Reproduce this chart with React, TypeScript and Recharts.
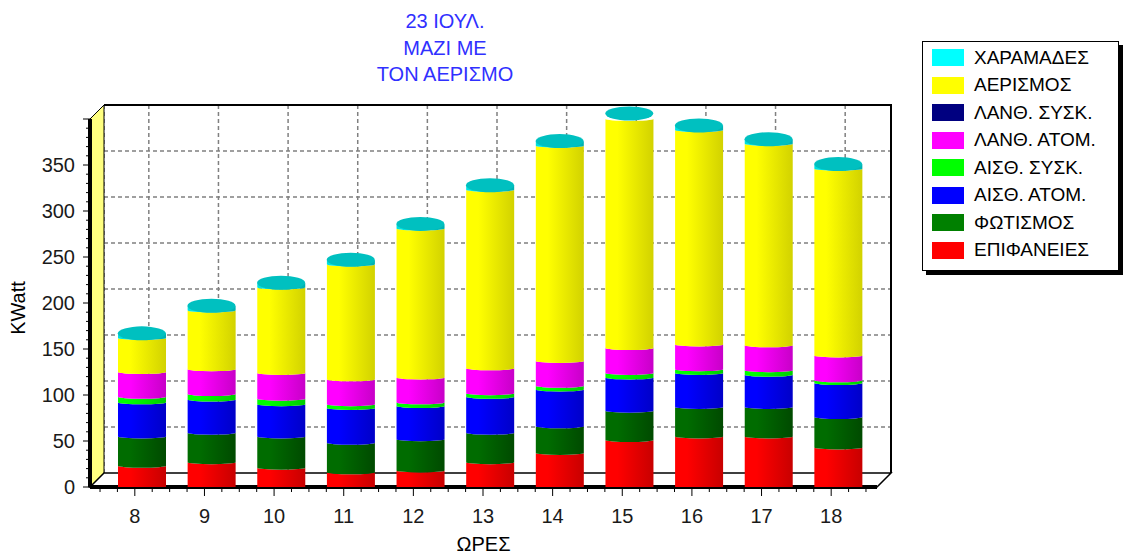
import React from 'react';
import {
  BarChart, Bar, XAxis, YAxis, CartesianGrid, ReferenceArea, ReferenceDot, Label,
} from 'recharts';

// hours of the day (x categories)
const HOURS = ['8', '9', '10', '11', '12', '13', '14', '15', '16', '17', '18'];

// KWatt per load component, bottom of the stack first
const EPIFANEIES = [23, 27, 21, 16, 18, 27, 37, 51, 55, 55, 43];
const FOTISMOS = [32, 32, 34, 32, 34, 32, 29, 32, 32, 32, 33];
const AISTH_ATOM = [37, 36, 35, 38, 36, 39, 40, 36, 37, 35, 37];
const AISTH_SYSK = [6, 6, 6, 4, 4, 4, 4, 5, 4, 5, 3];
const LANTH_ATOM = [27, 27, 28, 27, 27, 27, 27, 27, 27, 27, 27];
const LANTH_SYSK = [0, 0, 0, 0, 0, 0, 0, 0, 0, 0, 0];
const AERISMOS = [37, 64, 93, 125, 162, 194, 234, 250, 233, 219, 203];
const XARAMADES = [5, 5, 5, 5, 5, 5, 5, 5, 5, 5, 5];

const Y_TICKS = [
  0, 10, 20, 30, 40, 50, 60, 70, 80, 90, 100, 110, 120, 130, 140, 150, 160, 170, 180, 190,
  200, 210, 220, 230, 240, 250, 260, 270, 280, 290, 300, 310, 320, 330, 340, 350, 360, 370,
  380, 390, 400,
];
const GRID_VALUES = [50, 100, 150, 200, 250, 300, 350];

const SERIES = [
  { key: 'epif', name: 'ΕΠΙΦΑΝΕΙΕΣ', values: EPIFANEIES, swatch: '#ff0000', light: '#ff0000', dark: '#c80000' },
  { key: 'fot', name: 'ΦΩΤΙΣΜΟΣ', values: FOTISMOS, swatch: '#008000', light: '#006c00', dark: '#004a00' },
  { key: 'aatom', name: 'ΑΙΣΘ. ΑΤΟΜ.', values: AISTH_ATOM, swatch: '#0000ff', light: '#0000ff', dark: '#0000c8' },
  { key: 'asysk', name: 'ΑΙΣΘ. ΣΥΣΚ.', values: AISTH_SYSK, swatch: '#00ff00', light: '#00ff00', dark: '#00cc00' },
  { key: 'latom', name: 'ΛΑΝΘ. ΑΤΟΜ.', values: LANTH_ATOM, swatch: '#ff00ff', light: '#ff00ff', dark: '#c800c8' },
  { key: 'lsysk', name: 'ΛΑΝΘ. ΣΥΣΚ.', values: LANTH_SYSK, swatch: '#000080', light: '#000090', dark: '#000060' },
  { key: 'aer', name: 'ΑΕΡΙΣΜΟΣ', values: AERISMOS, swatch: '#ffff00', light: '#ffff00', dark: '#d2d200' },
  { key: 'xar', name: 'ΧΑΡΑΜΑΔΕΣ', values: XARAMADES, swatch: '#00ffff', light: '#00e0e0', dark: '#00b0b0' },
];

const data = HOURS.map((hour, i) => {
  const row: any = { hour };
  SERIES.forEach((s) => { row[s.key] = s.values[i]; });
  return row;
});
const TOTALS = HOURS.map((_, i) => SERIES.reduce((sum, s) => sum + s.values[i], 0));

const DEPTH = 14;
const SHIFT = DEPTH / 2;
const BAR_SIZE = 48;
const FONT = '"Liberation Sans", Arial, sans-serif';

const makeCylinder = (s: any) => (props: any) => {
  const { x, y, width, height } = props;
  if (!height || height <= 0) return <g />;
  const xl = x + SHIFT;
  const xr = xl + width;
  const rx = width / 2;
  const ry = 2;
  const bot = y + height;
  const id = `cyl-${s.key}`;
  const d = `M${xl},${y} L${xl},${bot} A${rx},${ry} 0 0 0 ${xr},${bot} L${xr},${y} A${rx},${ry} 0 0 1 ${xl},${y} Z`;
  return (
    <g>
      <defs>
        <linearGradient id={id} x1="0" x2="1" y1="0" y2="0">
          <stop offset="0" stopColor={s.light} />
          <stop offset="0.25" stopColor={s.light} />
          <stop offset="1" stopColor={s.dark} />
        </linearGradient>
      </defs>
      <path d={d} fill={`url(#${id})`} />
    </g>
  );
};

const Cap = (props: any) => (
  <ellipse cx={props.cx + SHIFT} cy={props.cy} rx={BAR_SIZE / 2} ry={7} fill="#00c0c0" />
);

// walls and floor of the 3d box
const Frame = (props: any) => {
  const { x, y, width, height } = props;
  const b = y + height;
  const r = x + width;
  return (
    <g>
      <polygon points={`${x},${b} ${x},${y} ${x + DEPTH},${y - DEPTH} ${x + DEPTH},${b - DEPTH}`} fill="#ffff80" stroke="#000" />
      <polygon points={`${x},${b} ${r},${b} ${r + DEPTH},${b - DEPTH} ${x + DEPTH},${b - DEPTH}`} fill="#fff" stroke="#000" strokeWidth={1.5} />
      <polyline points={`${x + DEPTH},${y - DEPTH} ${r + DEPTH},${y - DEPTH} ${r + DEPTH},${b - DEPTH}`} fill="none" stroke="#000" strokeWidth={2} />
      <line x1={x} y1={y} x2={x} y2={b} stroke="#000" strokeWidth={4} />
      <line x1={x} y1={b} x2={r} y2={b} stroke="#000" strokeWidth={4} />
    </g>
  );
};

const backLine = (p: any) => (
  <line
    key={p.key}
    x1={p.x1 + DEPTH} y1={p.y1 - DEPTH} x2={p.x2 + DEPTH} y2={p.y2 - DEPTH}
    stroke="#808080" strokeWidth={1.5} strokeDasharray="4 3"
  />
);

const YTick = (props: any) => {
  const { x, y, payload } = props;
  const ax = x + 15;
  const v = payload.value;
  const major = v % 50 === 0;
  return (
    <g>
      <line x1={ax - (major ? 7 : 4)} y1={y} x2={ax} y2={y} stroke="#000" />
      {major && v < 400 && (
        <text x={x} y={y} dy={7} textAnchor="end" fontSize={20} fill="#1a1a1a" style={{ fontFamily: FONT }}>
          {v}
        </text>
      )}
    </g>
  );
};

const XTick = (props: any) => {
  const { x, y, payload, index } = props;
  const ay = y - 21;
  const q = 17.4;
  const minor = index === HOURS.length - 1 ? [-2 * q, -q, q, 2 * q] : [-2 * q, -q, q];
  return (
    <g>
      <line x1={x} y1={ay} x2={x} y2={ay + 9} stroke="#000" />
      {minor.map((o) => (
        <line key={o} x1={x + o} y1={ay} x2={x + o} y2={ay + 5} stroke="#000" />
      ))}
      <text x={x} y={y} dy="0.75em" textAnchor="middle" fontSize={20} fill="#1a1a1a" style={{ fontFamily: FONT }}>
        {payload.value}
      </text>
    </g>
  );
};

const YTitle = (props: any) => {
  const { viewBox } = props;
  const cx = viewBox.x - 12;
  const cy = viewBox.y + viewBox.height / 2 + 5;
  return (
    <text
      x={cx} y={cy} textAnchor="middle" dominantBaseline="central" fontSize={20} fill="#000"
      transform={`rotate(-90, ${cx}, ${cy})`} style={{ fontFamily: FONT }}
    >
      KWatt
    </text>
  );
};

const LEGEND = [...SERIES].reverse();

export default function App() {
  return (
    <div style={{ position: 'absolute', left: 0, top: 0, width: 1124, height: 555, background: '#fff', fontFamily: FONT }}>
      <div style={{ position: 'absolute', left: 345, top: 8, width: 200, textAlign: 'center', fontSize: 20, lineHeight: '26.5px', color: '#3030ff' }}>
        <div>23 ΙΟΥΛ.</div>
        <div>ΜΑΖΙ ΜΕ</div>
        <div>ΤΟΝ ΑΕΡΙΣΜΟ</div>
      </div>

      <BarChart
        width={1124}
        height={555}
        data={data}
        margin={{ top: 119, right: 247, bottom: 6, left: 30 }}
        barSize={BAR_SIZE}
      >
        <XAxis xAxisId="frame" type="number" hide />
        <ReferenceArea xAxisId="frame" y1={0} y2={400} ifOverflow="visible" shape={<Frame />} />
        <CartesianGrid
          horizontalValues={GRID_VALUES}
          horizontal={backLine}
          vertical={backLine}
        />
        <XAxis
          dataKey="hour"
          type="category"
          padding={{ left: 10, right: 11 }}
          axisLine={false}
          tickLine={false}
          tickSize={7}
          tickMargin={14}
          height={62}
          interval={0}
          tick={<XTick />}
        >
          <Label value="ΩΡΕΣ" position="insideBottom" offset={-2} fontSize={20} fill="#000" style={{ fontFamily: FONT }} />
        </XAxis>
        <YAxis
          type="number"
          domain={[0, 400]}
          allowDataOverflow
          ticks={Y_TICKS}
          interval={0}
          axisLine={false}
          tickLine={false}
          tickSize={6}
          tickMargin={9}
          width={60}
          tick={<YTick />}
        >
          <Label content={<YTitle />} />
        </YAxis>
        {SERIES.map((s) => (
          <Bar
            key={s.key}
            dataKey={s.key}
            name={s.name}
            stackId="a"
            fill={s.swatch}
            shape={makeCylinder(s)}
            isAnimationActive={false}
          />
        ))}
        {HOURS.map((h, i) => (
          <ReferenceDot key={h} x={h} y={TOTALS[i]} r={0} ifOverflow="visible" shape={<Cap />} />
        ))}
      </BarChart>

      <div
        style={{
          position: 'absolute', left: 922, top: 41, width: 197, height: 230,
          border: '1px solid #000', boxShadow: '4px 4px 0 #000', boxSizing: 'border-box', background: '#fff',
        }}
      >
        {LEGEND.map((s, i) => {
          const c = 15.7 + 27.5 * i;
          return (
            <React.Fragment key={s.key}>
              <div style={{ position: 'absolute', left: 9, top: c - 8.5, width: 32, height: 17, background: s.swatch }} />
              <div style={{ position: 'absolute', left: 51, top: c - 9.8, fontSize: 19, lineHeight: '20px', color: '#000', whiteSpace: 'nowrap' }}>
                {s.name}
              </div>
            </React.Fragment>
          );
        })}
      </div>
    </div>
  );
}
